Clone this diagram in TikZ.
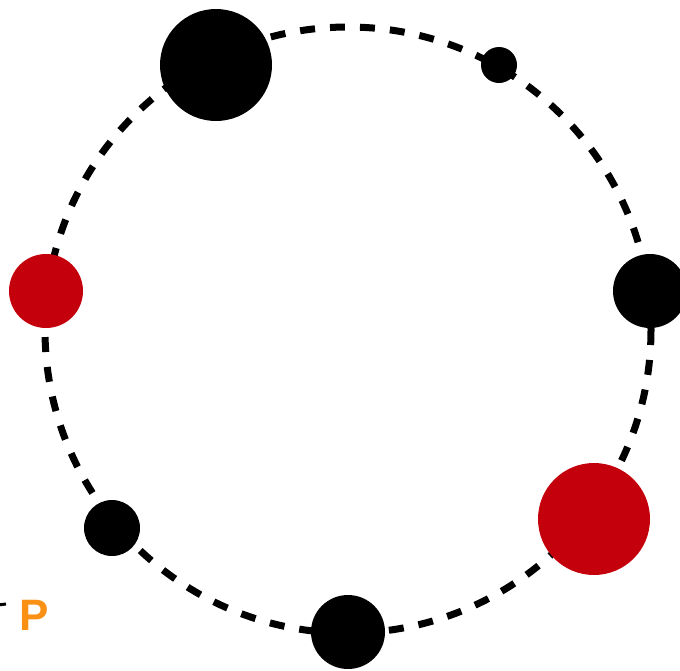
\documentclass[tikz,border=0pt]{standalone}
\usepackage{fontspec}
\setsansfont{Liberation Sans}
\definecolor{dotred}{RGB}{196,0,12}
\definecolor{porange}{RGB}{250,145,20}
\begin{document}
\begin{tikzpicture}[x=1pt,y=-1pt,
  ring/.style={line width=7pt,dash pattern=on 15pt off 15pt},
  dot/.style={circle,fill=black,inner sep=0pt,minimum size=#1},
  reddot/.style={circle,fill=dotred,inner sep=0pt,minimum size=#1}]
\useasboundingbox (0,0) rectangle (680,670);
\coordinate (c) at (348,330);
\draw[ring] (c) circle[radius=303];
\node[dot=112pt] (n1) at (216,65) {};
\node[dot=36pt] (n2) at (499,65) {};
\node[dot=74pt] (n3) at (650,291) {};
\node[reddot=112pt] (n4) at (594,519) {};
\node[dot=74pt] (n5) at (348,632) {};
\node[dot=56pt] (n6) at (112,528) {};
\node[reddot=74pt] (n7) at (46,291) {};
\node[text=porange,font=\sffamily\bfseries\fontsize{44}{44}\selectfont,anchor=base west,inner sep=0pt] (p) at (19,630) {P};
\coordinate (pl) at (-2,605);
\coordinate (pr) at (6,604);
\draw[line width=3pt] (pl) -- (pr);
\end{tikzpicture}
\end{document}
